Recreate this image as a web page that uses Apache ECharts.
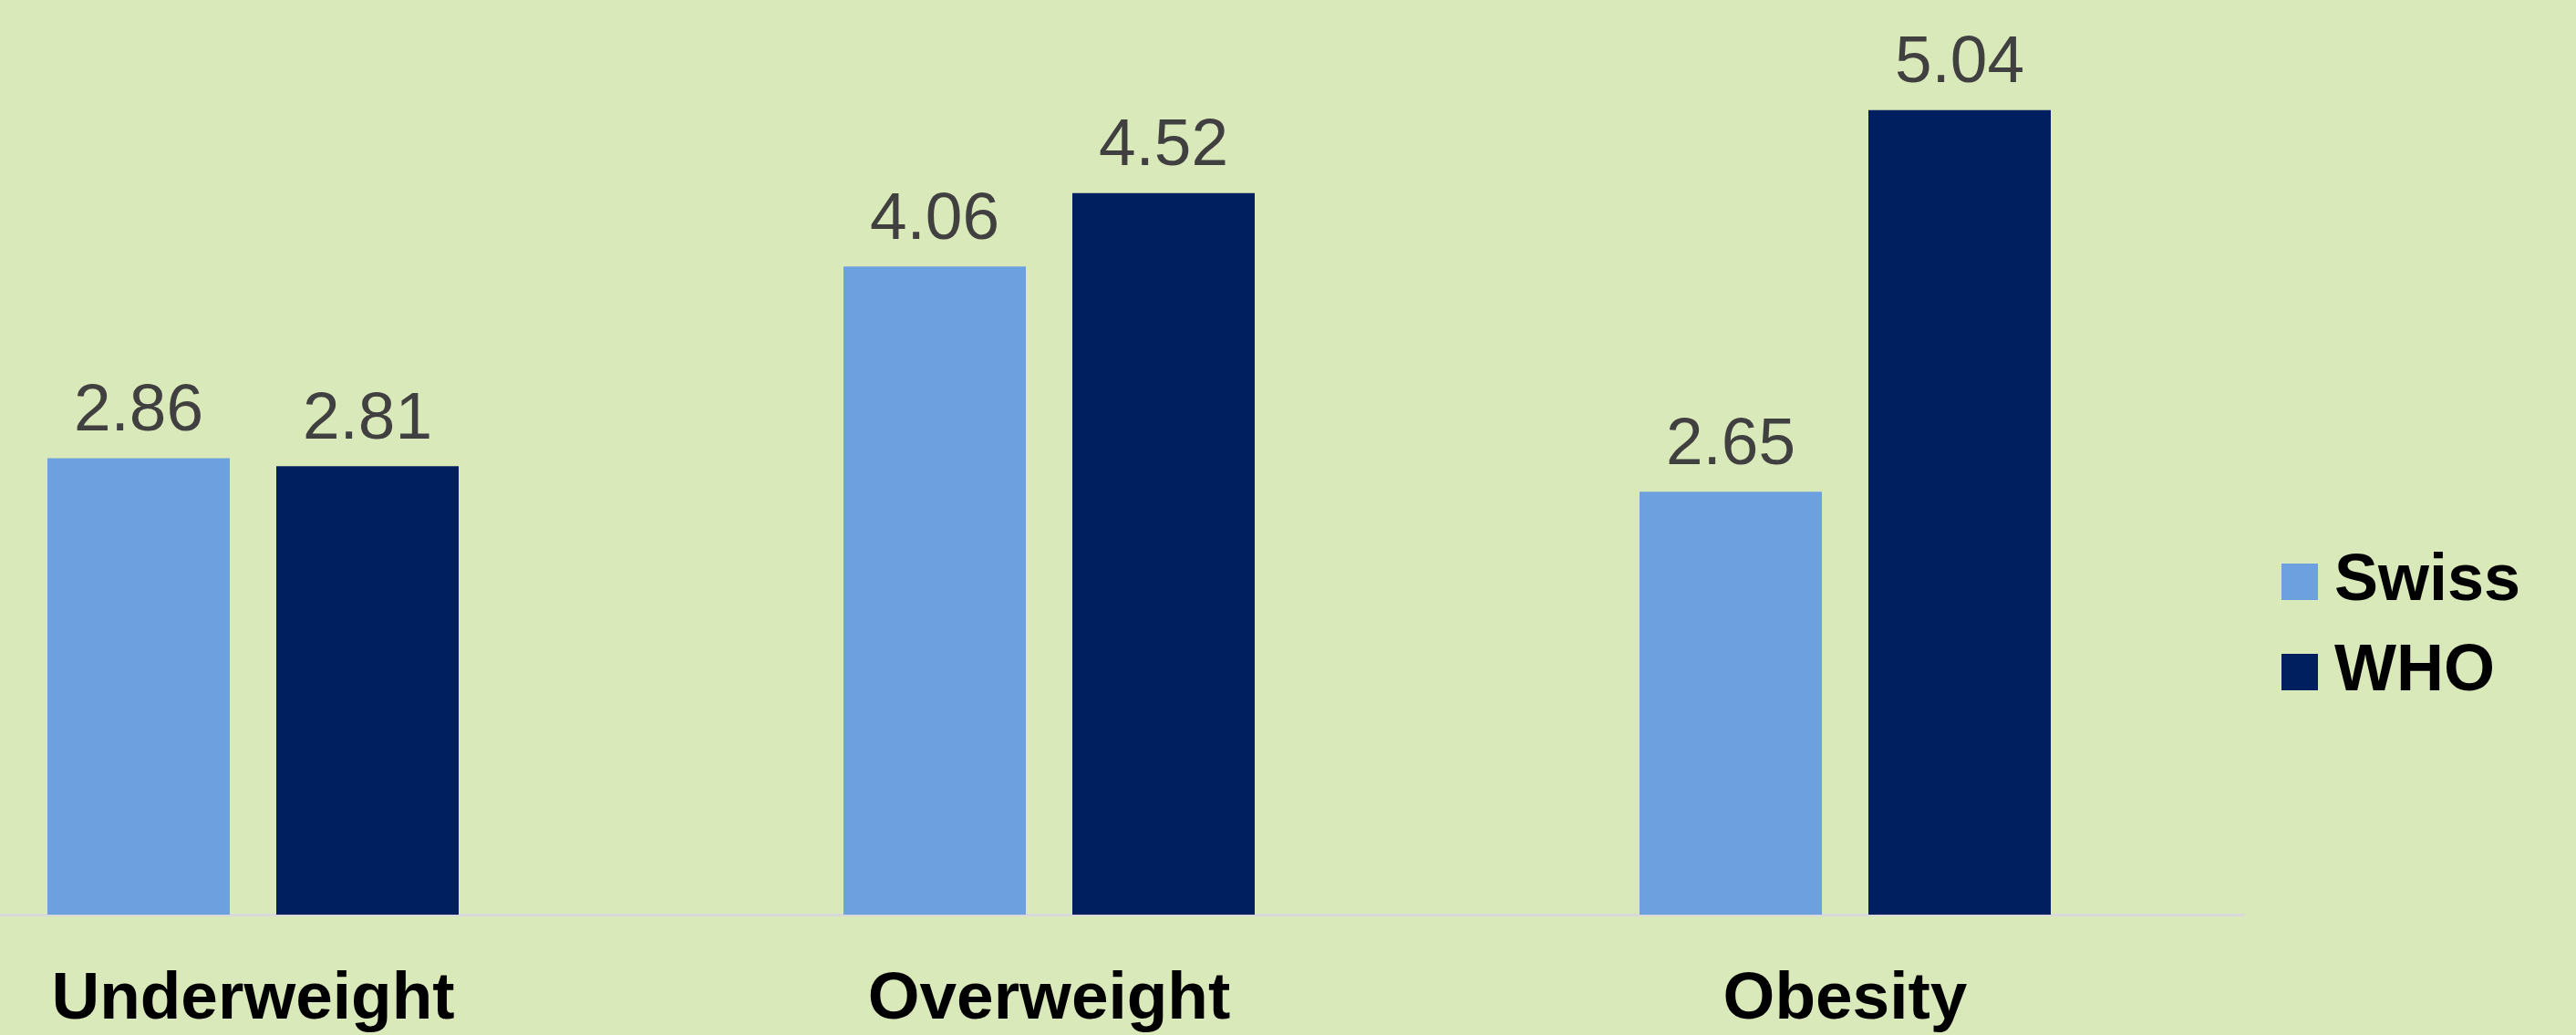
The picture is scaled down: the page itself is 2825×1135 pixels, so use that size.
<!DOCTYPE html>
<html><head><meta charset="utf-8">
<script src="https://cdn.jsdelivr.net/npm/echarts@6/dist/echarts.min.js"></script>
<style>html,body{margin:0;padding:0;background:#DAE9BA;overflow:hidden;width:2825px;height:1135px;}#c{position:absolute;left:-159px;top:0;width:2984px;height:1135px;}</style>
</head><body><div id="c"></div>
<script>
const categories = ['Underweight', 'Overweight', 'Obesity'];
const swissValues = [2.86, 4.06, 2.65];
const whoValues = [2.81, 4.52, 5.04];
const seriesNames = ['Swiss', 'WHO'];

const chart = echarts.init(document.getElementById('c'));
const font = '"Liberation Sans", Arial, sans-serif';
const labelCfg = {show: true, position: 'top', distance: 14, color: '#404040', fontSize: 73, fontFamily: font, formatter: p => p.value.toFixed(2)};
chart.setOption({
  backgroundColor: '#DAE9BA',
  animation: false,
  grid: {left: 0, right: 365, top: 0, bottom: 132, containLabel: false},
  legend: {
    orient: 'vertical', left: 2656, top: 597, itemWidth: 40, itemHeight: 40, itemGap: 27,
    icon: 'rect',
    textStyle: {fontSize: 72, fontWeight: 'bold', color: '#000', fontFamily: font, lineHeight: 72, padding: [0,0,0,13]},
    data: seriesNames
  },
  xAxis: {
    type: 'category', data: categories,
    axisLine: {show: true, lineStyle: {color: '#D9D9D9', width: 3}},
    axisTick: {show: false},
    axisLabel: {fontSize: 73, fontWeight: 'bold', color: '#000', fontFamily: font, margin: 57}
  },
  yAxis: {type: 'value', min: 0, max: 5.73, show: false, splitLine: {show: false}},
  series: [
    {name: seriesNames[0], type: 'bar', data: swissValues, barWidth: 200, barGap: '25.5%', itemStyle: {color: '#6CA0DE'}, label: labelCfg},
    {name: seriesNames[1], type: 'bar', data: whoValues, barWidth: 200, itemStyle: {color: '#001F5E'}, label: labelCfg}
  ]
});
</script></body></html>
